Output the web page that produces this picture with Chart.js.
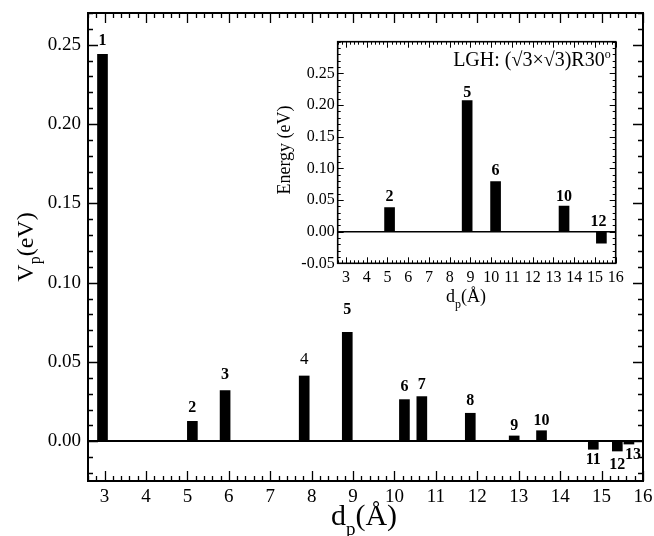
<!DOCTYPE html>
<html>
<head>
<meta charset="utf-8">
<script src="https://cdn.jsdelivr.net/npm/chart.js@4.4.1/dist/chart.umd.min.js"></script>
<style>
  html, body { margin: 0; padding: 0; background: #fff; }
  #wrap { position: relative; width: 654px; height: 536px; }
  #main { position: absolute; left: 0; top: 0; }
  #inset { position: absolute; left: 270px; top: 30px; }
</style>
</head>
<body>
<div id="wrap">
  <canvas id="main" width="654" height="536"></canvas>
  <canvas id="inset" width="360" height="290"></canvas>
</div>
<script>
/* global Chart */

// Pair interactions: pair index, distance d_p (Å), V_p (eV)
const pairNames = ['1', '2', '3', '4', '5', '6', '7', '8', '9', '10', '11', '12', '13'];
const pairDist  = [2.95, 5.12, 5.91, 7.82, 8.86, 10.24, 10.66, 11.83, 12.89, 13.55, 14.80, 15.38, 15.66];
const pairVp    = [0.244, 0.0126, 0.032, 0.0412, 0.0687, 0.0263, 0.0282, 0.0177, 0.0034, 0.0067, -0.0050, -0.0061, -0.0017];

// LGH subset for the (√3×√3)R30° structure
const lghNames  = ['2', '5', '6', '10', '12'];
const lghDist   = [5.10, 8.84, 10.21, 13.51, 15.31];
const lghEnergy = [0.038, 0.207, 0.079, 0.0405, -0.0183];

// Axis ticks
const distTicks   = [3, 4, 5, 6, 7, 8, 9, 10, 11, 12, 13, 14, 15, 16];
const mainYTicks  = [0, 0.05, 0.10, 0.15, 0.20, 0.25];
const insetYTicks = [-0.05, 0, 0.05, 0.10, 0.15, 0.20, 0.25];

const SERIF = "'Liberation Serif', 'Times New Roman', serif";

function stepsBetween(min, max, step) {
  const out = [];
  for (let i = Math.ceil(min / step - 1e-6); i * step <= max + 1e-9; i++) {
    out.push(+(i * step).toFixed(4));
  }
  return out;
}

function drawRich(ctx, parts, cx, baseline) {
  let total = 0;
  parts.forEach(p => { ctx.font = p.font; p.w = ctx.measureText(p.text).width; total += p.w; });
  let x = cx - total / 2;
  parts.forEach(p => {
    ctx.font = p.font;
    ctx.fillText(p.text, x, baseline + (p.dy || 0));
    x += p.w;
  });
}

// Inward ticks on all four sides plus the box frame
const tickMarks = {
  id: 'tickMarks',
  afterDraw(chart, args, opts) {
    const { ctx, chartArea: a, scales: { x, y } } = chart;
    const isMajor = (list, v) => list.some(t => Math.abs(t - v) < 1e-6);
    ctx.save();
    ctx.strokeStyle = '#000';
    ctx.lineWidth = opts.tickWidth;
    ctx.beginPath();
    stepsBetween(x.min, x.max, opts.xStep).forEach(v => {
      const px = Math.round(x.getPixelForValue(v)) + 0.5;
      const len = isMajor(opts.xMajor, v) ? opts.major : opts.minor;
      ctx.moveTo(px, a.bottom); ctx.lineTo(px, a.bottom - len);
      ctx.moveTo(px, a.top); ctx.lineTo(px, a.top + len);
    });
    stepsBetween(y.min, y.max, opts.yStep).forEach(v => {
      const py = Math.round(y.getPixelForValue(v)) + 0.5;
      const len = isMajor(opts.yMajor, v) ? opts.major : opts.minor;
      ctx.moveTo(a.left, py); ctx.lineTo(a.left + len, py);
      ctx.moveTo(a.right, py); ctx.lineTo(a.right - len, py);
    });
    ctx.stroke();
    ctx.lineWidth = opts.frameWidth;
    ctx.strokeRect(a.left, a.top, a.width, a.height);
    ctx.restore();
  }
};

// Pair index written next to each bar
const barLabels = {
  id: 'barLabels',
  afterDatasetsDraw(chart, args, opts) {
    const { ctx } = chart;
    const meta = chart.getDatasetMeta(0);
    const data = chart.data.datasets[0].data;
    ctx.save();
    ctx.fillStyle = '#000';
    ctx.textAlign = 'center';
    ctx.textBaseline = 'alphabetic';
    meta.data.forEach((bar, i) => {
      const name = opts.names[i];
      const tw = opts.tweaks[name] || {};
      const gap = tw.gap != null ? tw.gap : opts.gap;
      ctx.font = (tw.plain ? '' : 'bold ') + (tw.size || opts.size) + 'px ' + SERIF;
      let ty;
      if (data[i].y >= 0 || opts.negAbove) {
        ty = Math.min(bar.y, bar.base) - gap;
      } else {
        ty = bar.y + gap + Math.round(opts.size * 0.68);
      }
      ctx.fillText(name, bar.x + (tw.dx || 0), ty);
    });
    ctx.restore();
  }
};

function barChart(canvas, cfg) {
  return new Chart(canvas, {
    type: 'bar',
    data: {
      datasets: [{
        data: cfg.dist.map((d, i) => ({ x: d, y: cfg.values[i] })),
        backgroundColor: '#000',
        borderWidth: 0,
        barThickness: 10,
      }],
    },
    options: {
      responsive: false,
      animation: false,
      layout: { padding: cfg.padding },
      plugins: {
        legend: { display: false },
        tooltip: { enabled: false },
        tickMarks: cfg.marks,
        barLabels: cfg.labels,
      },
      scales: {
        x: {
          type: 'linear',
          min: 2.6,
          max: 16,
          offset: false,
          grid: { display: false, offset: false },
          border: { display: false },
          afterBuildTicks: s => { s.ticks = distTicks.map(v => ({ value: v })); },
          afterFit: s => { s.height = cfg.xHeight; s.paddingLeft = 0; s.paddingRight = 0; },
          ticks: {
            font: { family: SERIF, size: cfg.tickSize },
            color: '#000',
            padding: cfg.xPad,
            maxRotation: 0,
            autoSkip: false,
            callback: v => String(v),
          },
        },
        y: {
          type: 'linear',
          min: cfg.yMin,
          max: cfg.yMax,
          grid: {
            drawTicks: false,
            lineWidth: cfg.zeroWidth,
            color: c => (c.tick && Math.abs(c.tick.value) < 1e-9 ? '#000' : 'rgba(0,0,0,0)'),
          },
          border: { display: false },
          afterBuildTicks: s => { s.ticks = cfg.yTicks.map(v => ({ value: v })); },
          afterFit: s => { s.width = cfg.yWidth; s.paddingTop = 0; s.paddingBottom = 0; },
          ticks: {
            font: { family: SERIF, size: cfg.tickSize },
            color: '#000',
            padding: cfg.yPad,
            callback: v => v.toFixed(2),
          },
        },
      },
    },
    plugins: [tickMarks, barLabels, cfg.titles],
  });
}

// Main panel
barChart(document.getElementById('main'), {
  dist: pairDist,
  values: pairVp,
  yMin: -0.025,
  yMax: 0.27,
  yTicks: mainYTicks,
  padding: { left: 0, top: 13, right: 11, bottom: 0 },
  xHeight: 55,
  yWidth: 88,
  tickSize: 19,
  xPad: -3,
  yPad: 7,
  zeroWidth: 2,
  marks: {
    xStep: 0.2, yStep: 0.01, xMajor: distTicks, yMajor: mainYTicks,
    major: 10, minor: 5, tickWidth: 1.3, frameWidth: 2,
  },
  labels: {
    names: pairNames, size: 16, gap: 9, negAbove: false,
    tweaks: {
      '3': { gap: 12 }, '4': { gap: 12, plain: true, size: 17 }, '5': { gap: 18 },
      '7': { gap: 8 }, '8': { gap: 8 }, '9': { gap: 6 }, '10': { gap: 6 },
      '11': { gap: 4 }, '12': { gap: 7 }, '13': { gap: 4, dx: 4 },
    },
  },
  titles: {
    id: 'mainTitles',
    afterDraw(chart) {
      const ctx = chart.ctx;
      ctx.save();
      ctx.fillStyle = '#000';
      ctx.textAlign = 'left';
      ctx.textBaseline = 'alphabetic';
      drawRich(ctx, [
        { text: 'd', font: '30px ' + SERIF },
        { text: 'p', font: '19px ' + SERIF, dy: 10 },
        { text: '(Å)', font: '30px ' + SERIF },
      ], 364, 525);
      ctx.translate(33, 247);
      ctx.rotate(-Math.PI / 2);
      drawRich(ctx, [
        { text: 'V', font: '24px ' + SERIF },
        { text: 'p', font: '16px ' + SERIF, dy: 7 },
        { text: '(eV)', font: '24px ' + SERIF },
      ], 0, 0);
      ctx.restore();
    },
  },
});

// Inset panel
barChart(document.getElementById('inset'), {
  dist: lghDist,
  values: lghEnergy,
  yMin: -0.05,
  yMax: 0.30,
  yTicks: insetYTicks,
  padding: { left: 0, top: 11.7, right: 14.3, bottom: 0 },
  xHeight: 56.7,
  yWidth: 67.7,
  tickSize: 16,
  xPad: -3,
  yPad: 3,
  zeroWidth: 1.6,
  marks: {
    xStep: 0.2, yStep: 0.01, xMajor: distTicks, yMajor: insetYTicks,
    major: 6, minor: 3, tickWidth: 1, frameWidth: 1.6,
  },
  labels: {
    names: lghNames, size: 16, gap: 7, negAbove: true,
    tweaks: { '5': { gap: 4 }, '10': { gap: 5 }, '12': { gap: 6, dx: -3 } },
  },
  titles: {
    id: 'insetTitles',
    afterDraw(chart) {
      const ctx = chart.ctx;
      const a = chart.chartArea;
      ctx.save();
      ctx.fillStyle = '#000';
      ctx.textBaseline = 'alphabetic';
      // structure label, top right
      ctx.textAlign = 'right';
      ctx.font = '12px ' + SERIF;
      const supW = ctx.measureText('o').width;
      ctx.fillText('o', a.right - 5, a.top + 16);
      ctx.font = '20px ' + SERIF;
      ctx.fillText('LGH: (√3×√3)R30', a.right - 5 - supW, a.top + 24);
      ctx.textAlign = 'left';
      drawRich(ctx, [
        { text: 'd', font: '18px ' + SERIF },
        { text: 'p', font: '12px ' + SERIF, dy: 6 },
        { text: '(Å)', font: '18px ' + SERIF },
      ], 196, 272);
      ctx.translate(20, 120);
      ctx.rotate(-Math.PI / 2);
      ctx.textAlign = 'center';
      ctx.font = '18px ' + SERIF;
      ctx.fillText('Energy (eV)', 0, 0);
      ctx.restore();
    },
  },
});
</script>
</body>
</html>
